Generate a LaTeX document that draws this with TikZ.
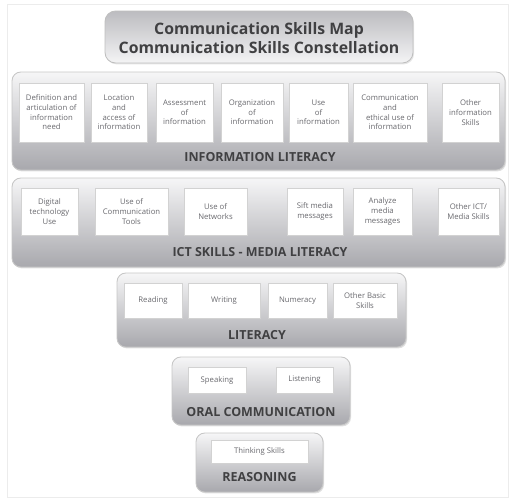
\documentclass[tikz,border=0pt]{standalone}
\usepackage{fontspec}
\setmainfont{Open Sans}
\usetikzlibrary{shadows}

\definecolor{inkgray}{RGB}{64,64,66}
\definecolor{smallgray}{RGB}{105,105,110}
\definecolor{paneltop}{RGB}{246,246,247}
\definecolor{panelbot}{RGB}{168,168,173}
\definecolor{titletop}{RGB}{188,188,192}
\definecolor{titlebot}{RGB}{244,244,245}

\tikzset{
  panel/.style={rounded corners=5pt, draw=gray!45, line width=0.5pt,
    top color=paneltop, bottom color=panelbot,
    drop shadow={opacity=0.25, shadow xshift=0.6pt, shadow yshift=-0.8pt}},
  titlebox/.style={rounded corners=6pt, draw=gray!50, line width=0.5pt,
    top color=titletop, bottom color=titlebot,
    drop shadow={opacity=0.2, shadow xshift=0.6pt, shadow yshift=-0.8pt}},
  skill/.style={draw=gray!35, fill=white, line width=0.4pt, inner sep=1pt,
    align=center, text=smallgray, font=\fontsize{4.4}{5.5}\selectfont},
  heading/.style={text=inkgray, font=\fontsize{7.1}{8.4}\selectfont\bfseries}
}

\begin{document}
\begin{tikzpicture}[x=0.02cm, y=-0.02cm]
\useasboundingbox (0,0) rectangle (510,498);
\draw[gray!15] (7,4) rectangle (508,497); % outer frame

% title
\path[titlebox] (105,11) rectangle (413,63); % title box
\node[text=inkgray, font=\fontsize{9}{10.6}\selectfont\bfseries, align=center] (title) at (259,38) {Communication Skills Map\\Communication Skills Constellation}; % title text

% information literacy
\path[panel] (12,72) rectangle (505,170); % information literacy panel
\node[skill, minimum width=1.30cm, minimum height=1.18cm] (il1) at (51.5,112.5) {Definition and\\articulation of\\information\\need};
\node[skill, minimum width=1.12cm, minimum height=1.18cm] (il2) at (119,112.5) {Location\\and\\access of\\information};
\node[skill, minimum width=1.14cm, minimum height=1.18cm] (il3) at (184.5,112.5) {Assessment\\of\\information};
\node[skill, minimum width=1.24cm, minimum height=1.18cm] (il4) at (252,112.5) {Organization\\of\\information};
\node[skill, minimum width=1.18cm, minimum height=1.18cm] (il5) at (318.5,112.5) {Use\\of\\information};
\node[skill, minimum width=1.48cm, minimum height=1.18cm] (il6) at (390,112.5) {Communication\\and\\ethical use of\\information};
\node[skill, minimum width=1.14cm, minimum height=1.18cm] (il7) at (470.5,112.5) {Other\\information\\Skills};
\node[heading] (ilLabel) at (260,157) {INFORMATION LITERACY}; % panel label

% ict skills - media literacy
\path[panel] (12,178) rectangle (505,267); % ict panel
\node[skill, minimum width=1.14cm, minimum height=0.94cm] (ict1) at (49.5,211.5) {Digital\\technology\\Use};
\node[skill, minimum width=1.46cm, minimum height=0.94cm] (ict2) at (131.5,211.5) {Use of\\Communication\\Tools};
\node[skill, minimum width=1.26cm, minimum height=0.94cm] (ict3) at (215.5,211.5) {Use of\\Networks};
\node[skill, minimum width=1.12cm, minimum height=0.94cm] (ict4) at (315,211.5) {Sift media\\messages};
\node[skill, minimum width=1.18cm, minimum height=0.94cm] (ict5) at (382.5,211.5) {Analyze\\media\\messages};
\node[skill, minimum width=1.22cm, minimum height=0.94cm] (ict6) at (468.5,211.5) {Other ICT/\\Media Skills};
\node[heading] (ictLabel) at (260,252) {ICT SKILLS - MEDIA LITERACY}; % panel label

% literacy
\path[panel] (117,273) rectangle (406,347); % literacy panel
\node[skill, minimum width=1.16cm, minimum height=0.70cm] (lit1) at (153,300.5) {Reading};
\node[skill, minimum width=1.44cm, minimum height=0.70cm] (lit2) at (224,300.5) {Writing};
\node[skill, minimum width=1.18cm, minimum height=0.70cm] (lit3) at (297.5,300.5) {Numeracy};
\node[skill, minimum width=1.28cm, minimum height=0.70cm] (lit4) at (365,300.5) {Other Basic\\Skills};
\node[heading] (litLabel) at (257,335) {LITERACY}; % panel label

% oral communication
\path[panel] (172,357) rectangle (350,425); % oral panel
\node[skill, minimum width=1.16cm, minimum height=0.52cm] (oral1) at (217,380) {Speaking};
\node[skill, minimum width=1.14cm, minimum height=0.52cm] (oral2) at (304.5,380) {Listening};
\node[heading] (oralLabel) at (261,412) {ORAL COMMUNICATION}; % panel label

% reasoning
\path[panel] (196,433) rectangle (323,492); % reasoning panel
\node[skill, minimum width=1.94cm, minimum height=0.46cm] (reas1) at (259.5,451.5) {Thinking Skills};
\node[heading] (reasLabel) at (259.5,477) {REASONING}; % panel label

\end{tikzpicture}
\end{document}
